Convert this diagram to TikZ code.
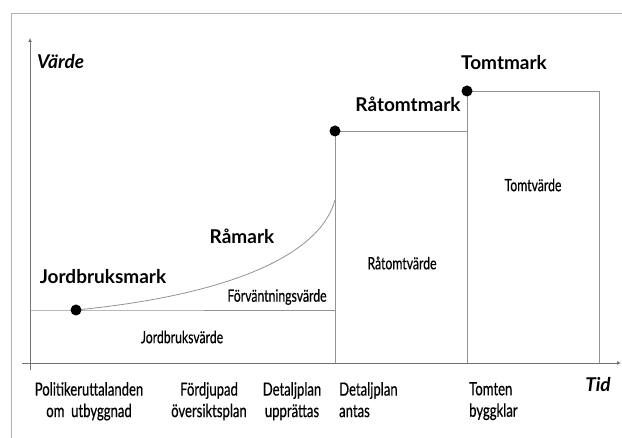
\documentclass[tikz,border=0pt]{standalone}
\usepackage{fontspec}
\setmainfont{Lato}
\newfontfamily\narrowfont[FakeStretch=0.72,FakeBold=0.4]{Lato}
\usetikzlibrary{arrows.meta,positioning}

\tikzset{
  frameline/.style={draw=gray!60, line width=0.7pt},
  axis/.style={draw=gray!90!black, line width=0.9pt},
  valline/.style={draw=gray!85, line width=0.8pt},
  dot/.style={circle, fill=black, inner sep=0pt, minimum size=11pt},
  heading/.style={font=\bfseries\fontsize{19}{21}\selectfont, inner sep=0pt},
  areatext/.style={font=\narrowfont\fontsize{17}{19}\selectfont, inner sep=0pt},
  stage/.style={font=\narrowfont\fontsize{18.2}{21.5}\selectfont, inner sep=0pt, align=center}
}

\begin{document}
\begin{tikzpicture}[x=1pt, y=-1pt]
  \useasboundingbox[fill=white] (0,0) rectangle (622,438);
  % ram
  \draw[frameline] (11,438) -- (11,13) -- (622,13);
  % axlar
  \coordinate (origo) at (30,363);
  \coordinate (ytop) at (30,38);
  \coordinate (xend) at (621,363);
  \draw[axis, -{Latex[length=4pt,width=4pt]}] (30,370) -- (ytop);
  \draw[axis, -{Latex[length=4pt,width=4pt]}] (22,363) -- (xend);
  % punkter
  \coordinate (jord) at (76,310);
  \coordinate (ratomt) at (335,131);
  \coordinate (tomt) at (467,91);
  \coordinate (jordr) at (335,310);
  \coordinate (jordl) at (30,310);
  \coordinate (kurva) at (335,200);
  \coordinate (ratomtb) at (335,363);
  \coordinate (ratomtr) at (467,131);
  \coordinate (tomtb) at (467,363);
  \coordinate (tomtr) at (599,91);
  \coordinate (tomtrb) at (599,363);
  % värdelinjer
  \draw[valline] (jordl) -- (jord) -- (jordr);
  \draw[valline] (jord) .. controls (230,295) and (320,255) .. (kurva);
  \draw[valline] (ratomtb) -- (ratomt) -- (ratomtr);
  \draw[valline] (tomtb) -- (tomt) -- (tomtr) -- (tomtrb);
  \node[dot] (jorddot) at (jord) {};
  \node[dot] (ratomtdot) at (ratomt) {};
  \node[dot] (tomtdot) at (tomt) {};
  % rubriker
  \node[heading, font=\bfseries\itshape\fontsize{19}{21}\selectfont, anchor=west] (varde) at (37,62) {Värde};
  \node[heading] (tomtmark) at (504,63) {Tomtmark};
  \node[heading] (ratomtmark) at (408,104) {Råtomtmark};
  \node[heading] (ramark) at (242,236) {Råmark};
  \node[heading] (jordmark) at (103,277) {Jordbruksmark};
  \node[heading, font=\bfseries\itshape\fontsize{19}{21}\selectfont] (tid) at (598,385) {Tid};
  % ytor
  \node[areatext] (forv) at (277,297) {Förväntningsvärde};
  \node[areatext] (jordv) at (182,337) {Jordbruksvärde};
  \node[areatext] (ratomtv) at (402,263) {Råtomtvärde};
  \node[areatext] (tomtv) at (533,185) {Tomtvärde};
  % skeden
  \node[stage, anchor=north] (polit) at (89,382) {Politikeruttalanden\\om\ \ utbyggnad};
  \node[stage, anchor=north] (fordj) at (209,382) {Fördjupad\\översiktsplan};
  \node[stage, anchor=north] (dpupp) at (292,382) {Detaljplan\\upprättas};
  \node[stage, anchor=north west, align=left] (dpant) at (339,382) {Detaljplan\\antas};
  \node[stage, anchor=north west, align=left] (bygg) at (469,382) {Tomten\\byggklar};
\end{tikzpicture}
\end{document}
